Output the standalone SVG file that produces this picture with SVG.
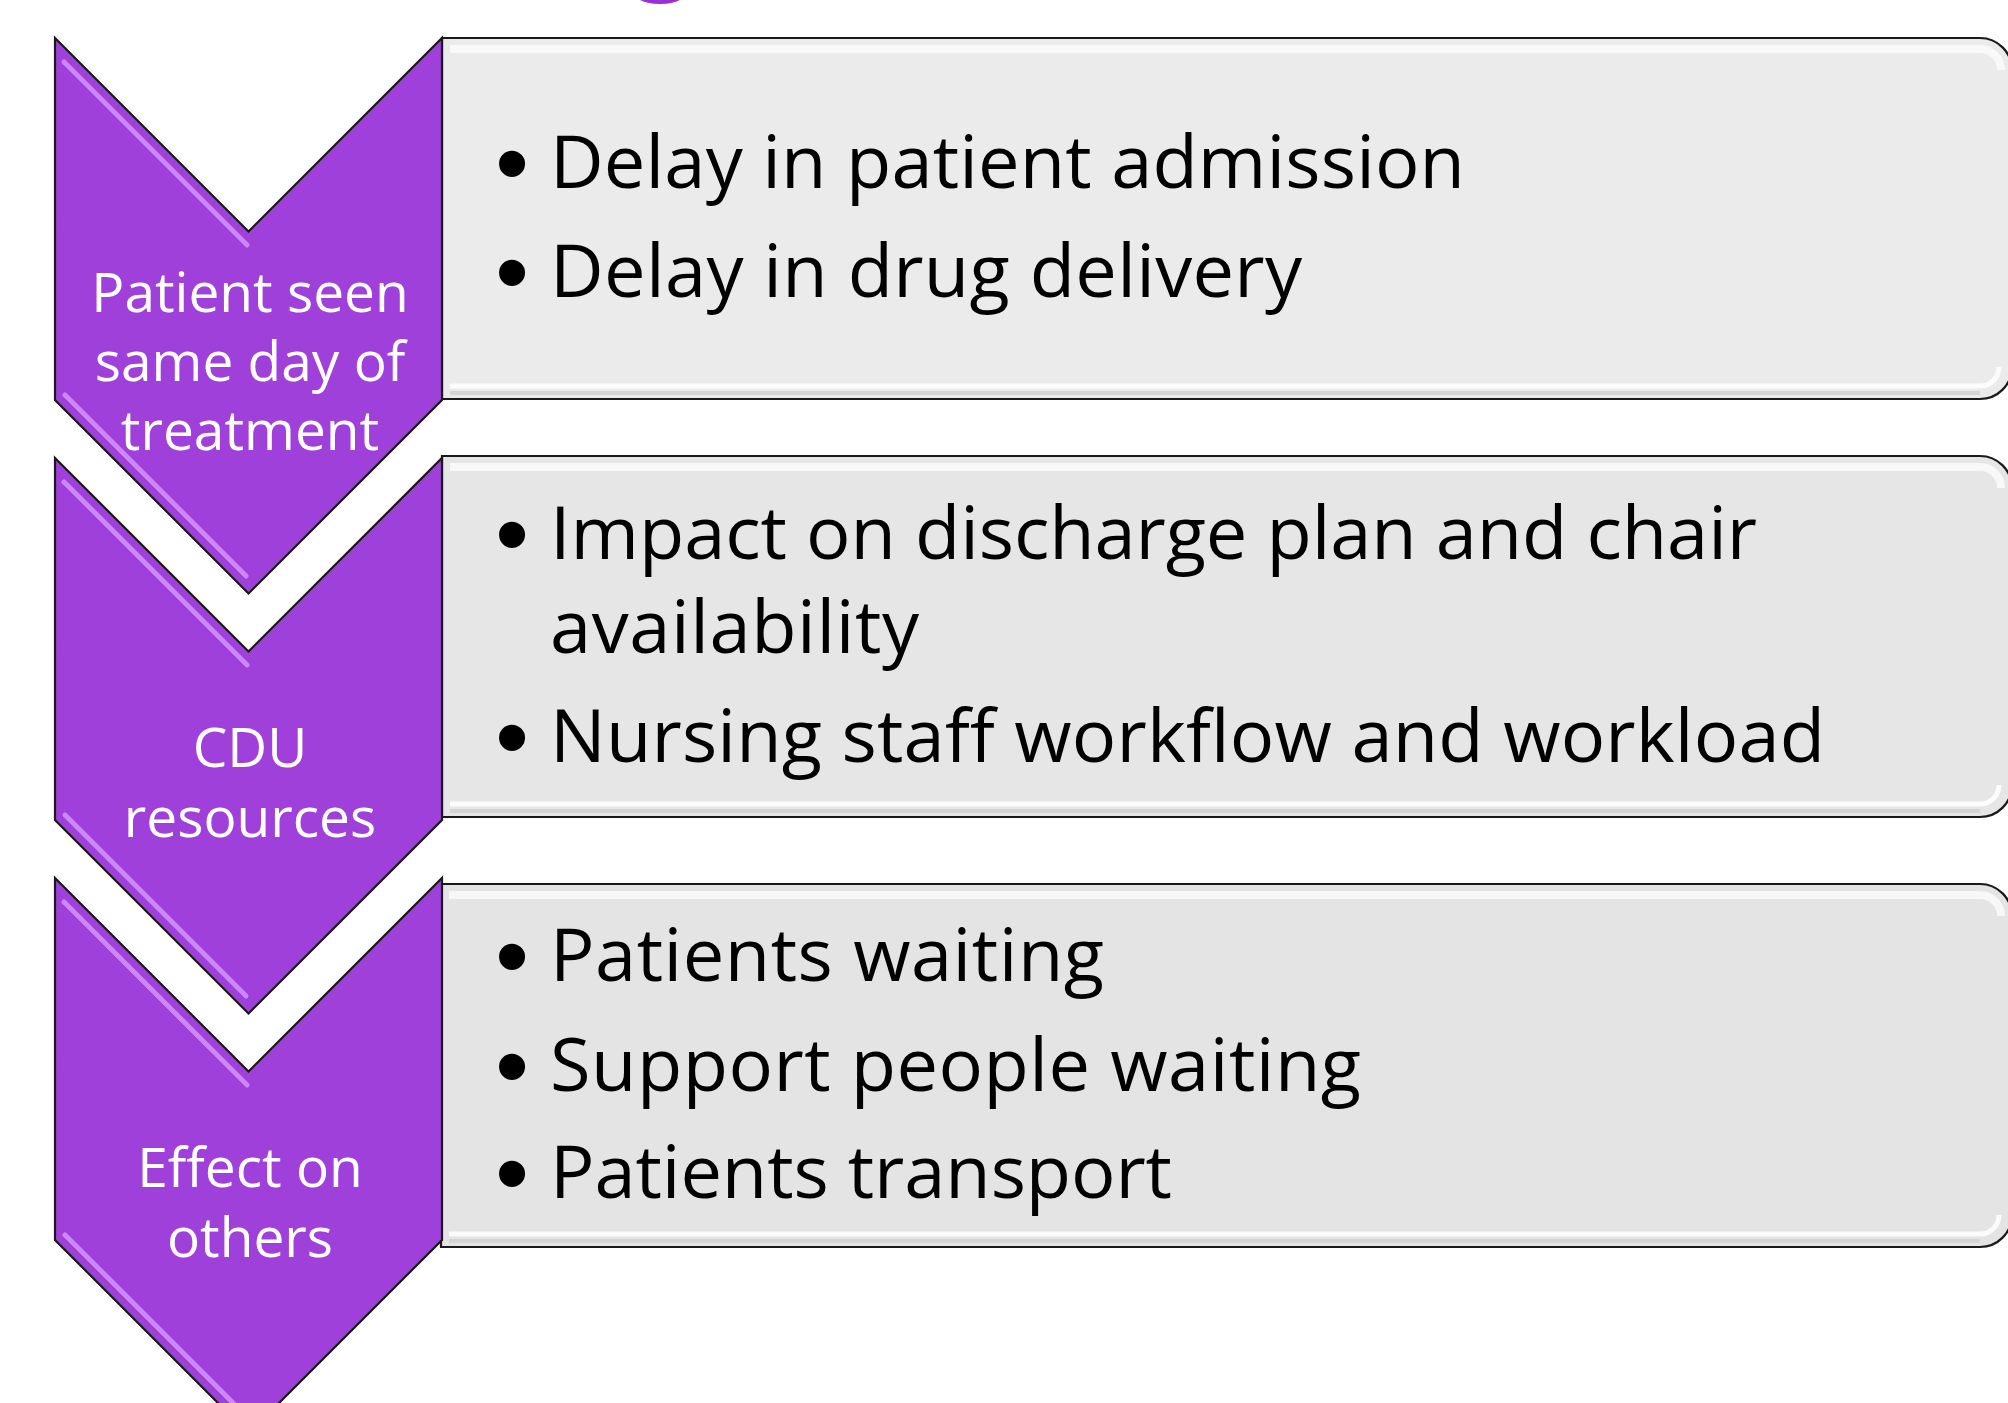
<svg xmlns="http://www.w3.org/2000/svg" xmlns:xlink="http://www.w3.org/1999/xlink" width="2008" height="1403" viewBox="0 0 2008 1403">
  <style>
    .chev { fill: #9f40da; stroke: #1a1a1a; stroke-width: 2.2; stroke-linejoin: miter; }
    .chev-hi { fill: none; stroke: #cc88f6; stroke-width: 5; stroke-linecap: round; }
    .chev-lo { fill: none; stroke: #7a22b4; stroke-width: 1.5; stroke-linecap: round; opacity: 0.55; }
    .box { stroke: #1a1a1a; stroke-width: 2.2; }
    .box-hi { fill: none; stroke: #ffffff; stroke-width: 8; opacity: 0.7; }
    .box-hi2 { fill: none; stroke: #ffffff; stroke-width: 5; opacity: 0.85; }
    .box-lo { fill: none; stroke: #cfcfcf; stroke-width: 4; opacity: 0.8; }
    .label { font-family: "Open Sans", "Noto Sans", "Liberation Sans", sans-serif; font-size: 55px; fill: #ffffff; text-anchor: middle; }
    .item { font-family: "Open Sans", "Noto Sans", "Liberation Sans", sans-serif; font-size: 74px; fill: #000000; }
    .dot { font-family: "Liberation Sans", "DejaVu Sans", sans-serif; font-size: 96px; fill: #000000; text-anchor: middle; }
  </style>
  <defs>
    <!-- chevron outline, top edge at local y = 0 -->
    <path id="chevShape" d="M55,0 L248.5,193.5 L442,0 L442,362 L248.5,555.5 L55,362 Z"/>
    <!-- bevel highlights along the left diagonals -->
    <g id="chevBevel">
      <path class="chev-lo" d="M64,27 L246,209"/>
      <path class="chev-hi" d="M64,24 L247,207"/>
      <path class="chev-lo" d="M66,361 L245,540"/>
      <path class="chev-hi" d="M65,357 L246,538"/>
    </g>
  </defs>

  <rect x="0" y="0" width="2008" height="1403" fill="#ffffff"/>

  <!-- partial round shape peeking in at the top edge -->
  <ellipse cx="660" cy="-14" rx="32" ry="18" fill="#9a2fd6"/>

  <g id="connectors"/>

  <!-- detail boxes -->
  <g id="box1">
    <path class="box" fill="#ebebeb" d="M442,38 H1980 A32,32 0 0 1 2012,70 V367 A32,32 0 0 1 1980,399 H442 Z"/>
    <path class="box-hi" d="M450,49 H1980 A21,21 0 0 1 2001,70"/>
    <path class="box-lo" d="M450,393 H1980"/>
    <path class="box-hi2" d="M450,386 H1980 A19,19 0 0 0 1999,367"/>
    <text class="dot" x="512" y="196">•</text>
    <text class="item" x="550" y="188" textLength="915">Delay in patient admission</text>
    <text class="dot" x="512" y="305">•</text>
    <text class="item" x="550" y="297" textLength="752">Delay in drug delivery</text>
  </g>

  <g id="box2">
    <path class="box" fill="#e6e6e6" d="M442,456 H1980 A32,32 0 0 1 2012,488 V785 A32,32 0 0 1 1980,817 H442 Z"/>
    <path class="box-hi" d="M450,467 H1980 A21,21 0 0 1 2001,488"/>
    <path class="box-lo" d="M450,811 H1980"/>
    <path class="box-hi2" d="M450,804 H1980 A19,19 0 0 0 1999,785"/>
    <text class="dot" x="512" y="567">•</text>
    <text class="item" x="550" y="559" textLength="1207">Impact on discharge plan and chair</text>
    <text class="item" x="550" y="653" textLength="369">availability</text>
    <text class="dot" x="512" y="770">•</text>
    <text class="item" x="550" y="762" textLength="1275">Nursing staff workflow and workload</text>
  </g>

  <g id="box3">
    <path class="box" fill="#e4e4e4" d="M441,884 H1980 A32,32 0 0 1 2012,916 V1215 A32,32 0 0 1 1980,1247 H441 Z"/>
    <path class="box-hi" d="M449,895 H1980 A21,21 0 0 1 2001,916"/>
    <path class="box-lo" d="M449,1241 H1980"/>
    <path class="box-hi2" d="M449,1234 H1980 A19,19 0 0 0 1999,1215"/>
    <text class="dot" x="512" y="989">•</text>
    <text class="item" x="550" y="981" textLength="554">Patients waiting</text>
    <text class="dot" x="512" y="1099">•</text>
    <text class="item" x="550" y="1091" textLength="811">Support people waiting</text>
    <text class="dot" x="512" y="1206">•</text>
    <text class="item" x="550" y="1198" textLength="622">Patients transport</text>
  </g>

  <!-- step chevrons -->
  <g id="step1">
    <use xlink:href="#chevShape" class="chev" transform="translate(0,38)"/>
    <use xlink:href="#chevBevel" transform="translate(0,38)"/>
    <text class="label" x="250" y="312">Patient seen</text>
    <text class="label" x="250" y="381">same day of</text>
    <text class="label" x="250" y="450">treatment</text>
  </g>

  <g id="step2">
    <use xlink:href="#chevShape" class="chev" transform="translate(0,458)"/>
    <use xlink:href="#chevBevel" transform="translate(0,458)"/>
    <text class="label" x="250" y="767">CDU</text>
    <text class="label" x="250" y="837">resources</text>
  </g>

  <g id="step3">
    <use xlink:href="#chevShape" class="chev" transform="translate(0,878)"/>
    <use xlink:href="#chevBevel" transform="translate(0,878)"/>
    <text class="label" x="250" y="1187">Effect on</text>
    <text class="label" x="250" y="1257">others</text>
  </g>
</svg>
